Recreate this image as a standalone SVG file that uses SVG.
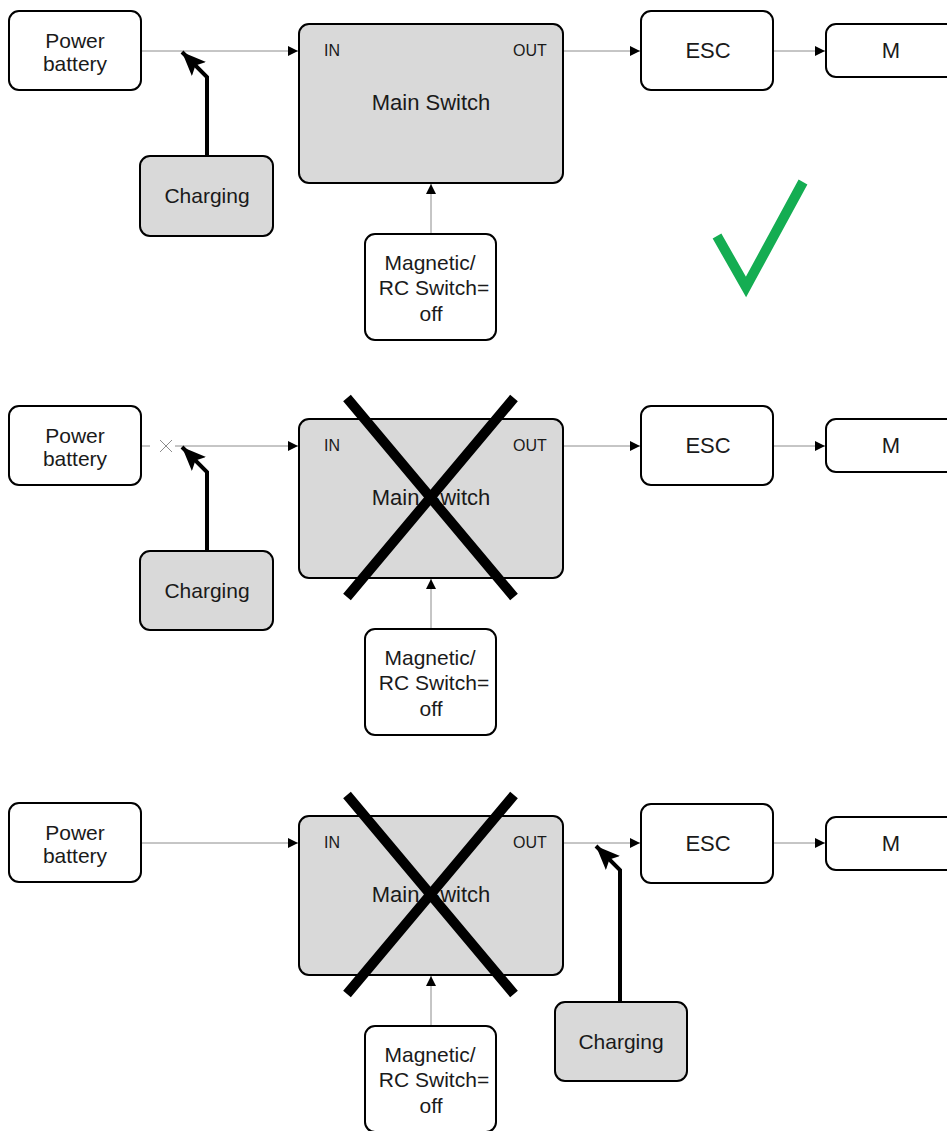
<svg xmlns="http://www.w3.org/2000/svg" width="947" height="1131" viewBox="0 0 947 1131">
<style>
.box{fill:#fff;stroke:#000;stroke-width:2}
.gbox{fill:#d9d9d9;stroke:#000;stroke-width:2}
.t{font-family:"Liberation Sans",Arial,sans-serif;font-size:21px;fill:#1a1a1a;text-anchor:middle}
.L{font-size:22px}
.s{font-family:"Liberation Sans",Arial,sans-serif;font-size:16px;fill:#1a1a1a;text-anchor:middle}
.c{fill:none;stroke:#8c8c8c;stroke-width:1}
.ch{fill:none;stroke:#000;stroke-width:4}
.x{stroke:#000;stroke-width:10}
</style>
<defs>
<marker id="a" markerUnits="userSpaceOnUse" markerWidth="12" markerHeight="10" refX="10" refY="5" orient="auto"><path d="M0,0 L10,5 L0,10 Z" fill="#000"/></marker>
<marker id="b" markerUnits="userSpaceOnUse" markerWidth="26" markerHeight="22" refX="24" refY="10" orient="auto"><path d="M0,0 L24,10 L0,20 L5,10 Z" fill="#000"/></marker>
</defs>
<g id="connectors">
<path class="c" d="M141,51 H298" marker-end="url(#a)"/>
<path class="c" d="M563,51 H640" marker-end="url(#a)"/>
<path class="c" d="M773,51 H825" marker-end="url(#a)"/>
<path class="c" d="M431,234 V184" marker-end="url(#a)"/>
<path class="ch" d="M207,156 V77 L182,52" marker-end="url(#b)"/>
<path class="c" d="M141,446 H150 M175,446 H298" marker-end="url(#a)"/>
<path class="c" d="M160,440 L172,452 M172,440 L160,452"/>
<path class="c" d="M563,446 H640" marker-end="url(#a)"/>
<path class="c" d="M773,446 H825" marker-end="url(#a)"/>
<path class="c" d="M431,629 V579" marker-end="url(#a)"/>
<path class="ch" d="M207,551 V472 L182,447" marker-end="url(#b)"/>
<path class="c" d="M141,843 H298" marker-end="url(#a)"/>
<path class="c" d="M563,843 H640" marker-end="url(#a)"/>
<path class="c" d="M773,843 H825" marker-end="url(#a)"/>
<path class="c" d="M431,1026 V976" marker-end="url(#a)"/>
<path class="ch" d="M620,1002 V870 L596,846" marker-end="url(#b)"/>
</g>
<g id="battery1"><rect class="box" x="9" y="11" width="132" height="79" rx="10"/><text class="t" x="75" y="48">Power</text><text class="t" x="75" y="71">battery</text></g>
<g id="charging1"><rect class="gbox" x="140" y="156" width="133" height="80" rx="10"/><text class="t" x="207" y="203">Charging</text></g>
<g id="main1"><rect class="gbox" x="299" y="24" width="264" height="159" rx="10"/><text class="s" x="332" y="56">IN</text><text class="s" x="530" y="56">OUT</text><text class="t L" x="431" y="110">Main Switch</text></g>
<g id="mag1"><rect class="box" x="365" y="234" width="131" height="106" rx="10"/><text class="t" x="430" y="270">Magnetic/</text><text class="t" x="434" y="295">RC Switch=</text><text class="t" x="431" y="321">off</text></g>
<g id="esc1"><rect class="box" x="641" y="11" width="132" height="79" rx="10"/><text class="t L" x="708" y="58">ESC</text></g>
<g id="m1"><rect class="box" x="826" y="24" width="132" height="53" rx="10"/><text class="t L" x="891" y="58">M</text></g>
<g id="check"><path d="M717,236 L746,287 L803,182" fill="none" stroke="#14ad52" stroke-width="10"/></g>
<g id="battery2"><rect class="box" x="9" y="406" width="132" height="79" rx="10"/><text class="t" x="75" y="443">Power</text><text class="t" x="75" y="466">battery</text></g>
<g id="charging2"><rect class="gbox" x="140" y="551" width="133" height="79" rx="10"/><text class="t" x="207" y="598">Charging</text></g>
<g id="main2"><rect class="gbox" x="299" y="419" width="264" height="159" rx="10"/><text class="s" x="332" y="451">IN</text><text class="s" x="530" y="451">OUT</text><text class="t L" x="431" y="505">Main Switch</text><path class="x" d="M347,398 L514,597 M514,398 L347,597"/></g>
<g id="mag2"><rect class="box" x="365" y="629" width="131" height="106" rx="10"/><text class="t" x="430" y="665">Magnetic/</text><text class="t" x="434" y="690">RC Switch=</text><text class="t" x="431" y="716">off</text></g>
<g id="esc2"><rect class="box" x="641" y="406" width="132" height="79" rx="10"/><text class="t L" x="708" y="453">ESC</text></g>
<g id="m2"><rect class="box" x="826" y="419" width="132" height="53" rx="10"/><text class="t L" x="891" y="453">M</text></g>
<g id="battery3"><rect class="box" x="9" y="803" width="132" height="79" rx="10"/><text class="t" x="75" y="840">Power</text><text class="t" x="75" y="863">battery</text></g>
<g id="main3"><rect class="gbox" x="299" y="816" width="264" height="159" rx="10"/><text class="s" x="332" y="848">IN</text><text class="s" x="530" y="848">OUT</text><text class="t L" x="431" y="902">Main Switch</text><path class="x" d="M347,795 L514,994 M514,795 L347,994"/></g>
<g id="mag3"><rect class="box" x="365" y="1026" width="131" height="106" rx="10"/><text class="t" x="430" y="1062">Magnetic/</text><text class="t" x="434" y="1087">RC Switch=</text><text class="t" x="431" y="1113">off</text></g>
<g id="charging3"><rect class="gbox" x="555" y="1002" width="132" height="79" rx="10"/><text class="t" x="621" y="1049">Charging</text></g>
<g id="esc3"><rect class="box" x="641" y="804" width="132" height="79" rx="10"/><text class="t L" x="708" y="851">ESC</text></g>
<g id="m3"><rect class="box" x="826" y="817" width="132" height="53" rx="10"/><text class="t L" x="891" y="851">M</text></g>
</svg>
